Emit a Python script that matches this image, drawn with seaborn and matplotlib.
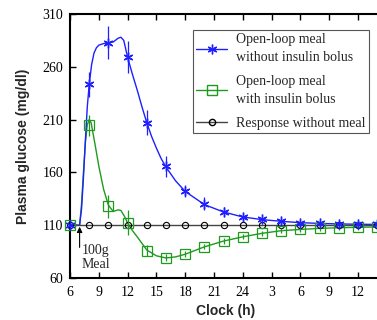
import numpy as np
import pandas as pd
import matplotlib
matplotlib.use("Agg")
import matplotlib.pyplot as plt
from matplotlib.lines import Line2D
import seaborn as sns

# ---- data (hours since midnight of day 1; 24+ = next day) ----
marker_t = [6, 8, 10, 12, 14, 16, 18, 20, 22, 24, 26, 28, 30, 32, 34, 36, 38]
no_bolus = [110, 243.5, 283, 269, 207, 166, 142.5, 130.5, 122.8, 118, 115.6, 114, 112.4, 111.8, 111.3, 111, 110.8]
no_bolus_err = [0, 12, 16, 15, 12, 10, 6, 6, 4, 3, 2, 1.5, 1, 1, 1, 1, 1]
bolus = [110, 204.5, 128, 112.4, 86, 79.3, 82.7, 89.7, 95, 99.1, 102.3, 104.8, 106, 106.9, 107.6, 108, 108.4]
bolus_err = [0, 10, 11, 12, 5, 3, 2.5, 2.5, 2.5, 2.5, 2.5, 2.5, 2.5, 2.5, 2.5, 2.5, 2.5]
baseline = [110] * len(marker_t)

curve_t_nb = [6, 7, 7.2, 7.4, 7.6, 7.8, 8, 8.25, 8.5, 8.75, 9, 9.5, 10, 10.5, 11, 11.3, 11.6, 12,
              12.5, 13, 13.5, 14, 14.5, 15, 15.5, 16, 17, 18, 20, 22, 24, 26, 28, 30, 32, 34, 36, 38.2]
curve_nb = [110, 110, 125, 155, 190, 222, 243, 262, 273, 278, 280.5, 282, 282.5, 283.5, 287, 288, 285, 269,
            253, 238, 222, 207, 194, 183, 173, 165, 152, 142, 129.5, 122.5, 117.8, 115.3, 113.7, 112.4, 111.7, 111.2, 110.9, 110.7]
curve_t_b = [6, 7, 7.2, 7.4, 7.6, 7.8, 8, 8.2, 8.6, 9, 9.5, 10, 10.5, 11, 11.3, 11.7, 12,
             12.5, 13, 14, 15, 16, 17, 18, 20, 22, 24, 26, 28, 30, 32, 34, 36, 38.2]
curve_b = [110, 110, 130, 160, 188, 205, 210, 207, 187, 166, 144, 129, 123, 124.5, 124, 118, 112,
           105, 99, 86.5, 81, 79, 80, 82.5, 89.5, 95, 99, 102.3, 104.8, 106, 107, 107.6, 108, 108.4]

xticks = [6, 9, 12, 15, 18, 21, 24, 27, 30, 33, 36]
xticklabels = ["6", "9", "12", "15", "18", "21", "24", "3", "6", "9", "12"]
yticks = [60, 110, 160, 210, 260, 310]

labels = ["Open-loop meal\nwithout insulin bolus",
          "Open-loop meal\nwith insulin bolus",
          "Response without meal"]

blue = "#1f1fff"
green = "#1f9a1f"
gray = "#444444"

sns.set_style("ticks")
plt.rcParams["font.family"] = ["Liberation Serif", "DejaVu Serif"]

fig = plt.figure(figsize=(3.77, 3.2), dpi=100)
ax = fig.add_axes([70 / 377, 42 / 320, 308.5 / 377, 264 / 320])

# smooth model curves
sns.lineplot(x=curve_t_b, y=curve_b, ax=ax, color=green, lw=1.0, sort=False)
sns.lineplot(x=curve_t_nb, y=curve_nb, ax=ax, color=blue, lw=1.0, sort=False)
# baseline
ax.plot(marker_t, baseline, color=gray, lw=1.0, marker="o", ms=4.5,
        mfc="none", mec="black", mew=0.8, clip_on=False, zorder=3)
# markers with error bars
ax.errorbar(marker_t, bolus, yerr=bolus_err, fmt="s", ms=6.5, mfc="none",
            mec=green, mew=0.9, ecolor=green, elinewidth=0.9, capsize=0,
            clip_on=False, zorder=4)
ax.errorbar(marker_t, no_bolus, yerr=no_bolus_err, fmt="none", ecolor=blue,
            elinewidth=0.9, capsize=0, clip_on=False, zorder=5)
ax.plot(marker_t, no_bolus, ls="none", marker=(6, 2, 0), ms=7, mec=blue, mew=1.0,
        clip_on=False, zorder=6)

ax.set_xlim(6, 6 + 308.5 / 9.6)
ax.set_ylim(60, 310)
ax.set_xticks(xticks)
ax.set_xticklabels(xticklabels)
ax.set_yticks(yticks)
ax.tick_params(direction="in", length=4, width=1, top=True, right=False,
               labelsize=10, pad=6, colors="black")
ax.tick_params(axis="y", pad=5)
for s in ["left", "bottom", "top"]:
    ax.spines[s].set_linewidth(1.5)
    ax.spines[s].set_color("black")
ax.spines["right"].set_visible(False)

ax.set_xlabel("Clock (h)", fontsize=10, fontweight="bold", family=["Liberation Sans", "DejaVu Sans"])
ax.set_ylabel("Plasma glucose (mg/dl)", fontsize=10, fontweight="bold", family=["Liberation Sans", "DejaVu Sans"])
ax.xaxis.set_label_coords(0.505, -0.10)
ax.yaxis.set_label_coords(-0.13, 0.5)

# meal annotation
ax.annotate("", xy=(7.0, 108.5), xytext=(7.0, 89),
            arrowprops=dict(arrowstyle="-|>", color="black", lw=0.8,
                            mutation_scale=8, shrinkA=0, shrinkB=0))
ax.text(7.25, 79.5, "100g\nMeal", fontsize=10, ha="left", va="center", linespacing=1.05)

handles = [
    Line2D([], [], color=blue, lw=1.0, marker=(6, 2, 0), ms=7, mec=blue),
    Line2D([], [], color=green, lw=1.0, marker="s", ms=6.5, mfc="none", mec=green),
    Line2D([], [], color=gray, lw=1.0, marker="o", ms=4.5, mfc="none", mec="black"),
]
leg = ax.legend(handles, labels, loc="upper left", bbox_to_anchor=((193 - 70) / 308.5, (278 - 30) / 264),
                fontsize=10, frameon=True, fancybox=False, framealpha=1,
                edgecolor="#555555", handlelength=2.2, handletextpad=0.65,
                borderpad=0.25, labelspacing=0.78, borderaxespad=0)
leg.get_frame().set_linewidth(0.8)
for t in leg.get_texts():
    t.set_linespacing(1.47)

fig.savefig("out.png", dpi=100)
